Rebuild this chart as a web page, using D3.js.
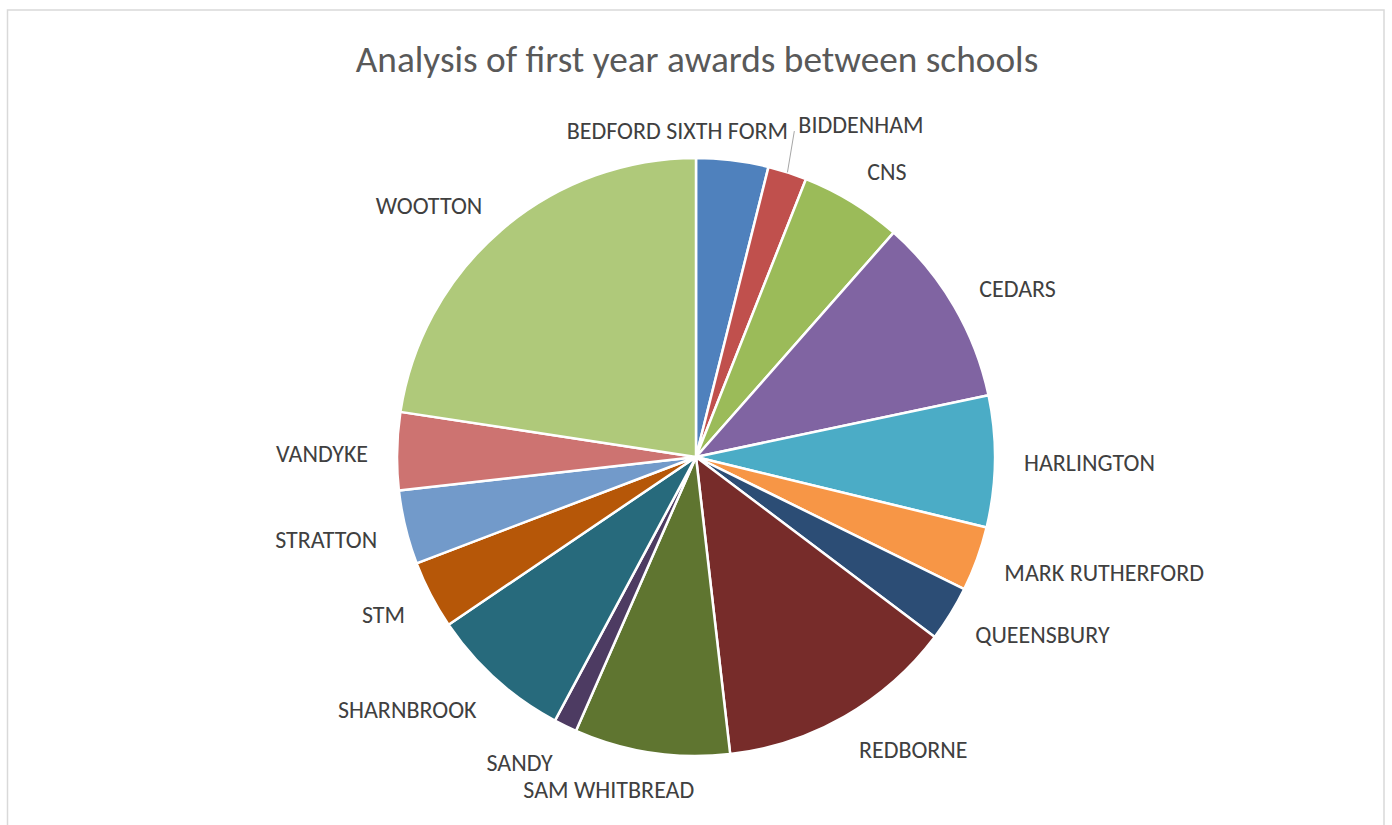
<!DOCTYPE html>
<html>
<head>
<meta charset="utf-8">
<script src="https://cdn.jsdelivr.net/npm/d3@7"></script>
<style>
  html, body { margin: 0; padding: 0; background: #fff; }
  text { font-family: Carlito, Calibri, Lato, sans-serif; }
</style>
</head>
<body>
<div id="pie"></div>
<script>
const schools = ['BEDFORD SIXTH FORM', 'BIDDENHAM', 'CNS', 'CEDARS', 'HARLINGTON',
  'MARK RUTHERFORD', 'QUEENSBURY', 'REDBORNE', 'SAM WHITBREAD', 'SANDY',
  'SHARNBROOK', 'STM', 'STRATTON', 'VANDYKE', 'WOOTTON'];
const awards = [3.9, 2.1, 5.5, 10.2, 7.1, 3.5, 3.0, 12.9, 8.4, 1.25, 7.7, 3.7, 4.0, 4.2, 22.6];
const colours = ['#4F81BD', '#C0504D', '#9BBB59', '#8064A2', '#4BACC6', '#F79646',
  '#2C4D75', '#772C2A', '#5F7530', '#4D3B62', '#276A7C', '#B65708',
  '#729ACA', '#CD7371', '#AFC97A'];

const width = 1392;
const height = 825;
const cx = 696, cy = 457, radius = 299;
const labelOffset = 29;

// excel best-fit moved a few labels
const labelNudge = {
  'BEDFORD SIXTH FORM': {anchor: 'end', dx: 52, dy: 6},
  'BIDDENHAM': {dx: 2, dy: -14, leader: true},
  'SAM WHITBREAD': {anchor: 'end', dx: 47, dy: -3}
};

const data = schools.map((s, i) => ({school: s, value: awards[i]}));

const svg = d3.select('#pie').append('svg')
  .attr('width', width)
  .attr('height', height);

svg.append('rect')
  .attr('x', 7.5).attr('y', 10)
  .attr('width', 1384 - 7.5).attr('height', height)
  .attr('fill', '#fff')
  .attr('stroke', '#d9d9d9')
  .attr('stroke-width', 1.5);

svg.append('text')
  .attr('x', 697)
  .attr('y', 72)
  .attr('text-anchor', 'middle')
  .attr('fill', '#595959')
  .attr('font-size', 37.3)
  .text('Analysis of first year awards between schools');

const pie = d3.pie().sort(null).value(d => d.value);
const arcs = pie(data);
const arc = d3.arc().innerRadius(0).outerRadius(radius);
const colour = d3.scaleOrdinal().domain(schools).range(colours);

const g = svg.append('g')
  .attr('transform', `translate(${cx}, ${cy})`);

g.selectAll('path.slice')
  .data(arcs)
  .join('path')
  .attr('class', 'slice')
  .attr('d', arc)
  .attr('fill', d => colour(d.data.school))
  .attr('stroke', '#fff')
  .attr('stroke-width', 2.5)
  .attr('stroke-linejoin', 'round');

const labelH = 16;
arcs.forEach(d => {
  const a = (d.startAngle + d.endAngle) / 2;
  const s = Math.sin(a), c = Math.cos(a);
  const R = radius + labelOffset;
  const nudge = labelNudge[d.data.school] || {};
  let x = R * s;
  let y = -R * c - c * labelH / 2 + (s < 0 ? 3 : 1);
  const anchor = nudge.anchor || (s >= 0 ? 'start' : 'end');
  x += nudge.dx || 0;
  y += nudge.dy || 0;

  if (nudge.leader) {
    g.append('path')
      .attr('d', d3.line()([[radius * s, -radius * c], [x - 4, y + 7]]))
      .attr('stroke', '#a6a6a6')
      .attr('stroke-width', 1)
      .attr('fill', 'none');
  }

  g.append('text')
    .attr('x', x)
    .attr('y', y)
    .attr('dy', '0.35em')
    .attr('text-anchor', anchor)
    .attr('fill', '#404040')
    .attr('font-size', 24)
    .text(d.data.school);
});
</script>
</body>
</html>
